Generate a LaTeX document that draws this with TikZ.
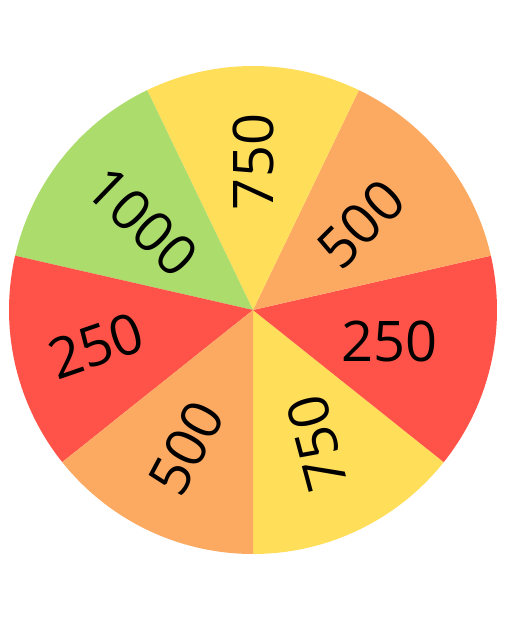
\documentclass[tikz,border=0pt]{standalone}
\usepackage{fontspec}
\setmainfont{Open Sans}
\usepackage{tikz}
\usetikzlibrary{calc}
\usepackage{xcolor}
\definecolor{cYellow}{RGB}{255,222,90}
\definecolor{cOrange}{RGB}{252,169,98}
\definecolor{cRed}{RGB}{255,83,73}
\definecolor{cGreen}{RGB}{172,220,108}
\tikzset{
  slice/.style={draw=none},
  valnode/.style={inner sep=0pt,anchor=center,text=black,
                  font=\fontsize{56}{60}\selectfont}
}

\begin{document}
\begin{tikzpicture}[x=1pt,y=1pt]
  \useasboundingbox (0,0) rectangle (508,619);
  \coordinate (hub) at (253,309);

  % slices, counter-clockwise from the bottom
  \foreach \col [count=\i] in {cYellow,cRed,cOrange,cYellow,cGreen,cRed,cOrange}{
    \pgfmathsetmacro{\a}{-90+(\i-1)*360/7}
    \pgfmathsetmacro{\b}{-90+\i*360/7}
    \fill[slice,fill=\col] (hub) -- ($(hub)+(\a:244)$) arc (\a:\b:244) -- cycle;
  }

  % values
  \foreach \val/\r/\rot [count=\i] in {750/148/105,250/140/0,500/138/45,
      750/148/90,1000/142/-44,250/161/19,500/153/62}{
    \pgfmathsetmacro{\m}{-90+(\i-0.5)*360/7}
    \node[valnode,rotate=\rot] (v\i) at ($(hub)+(\m:\r)$) {\val};
  }
\end{tikzpicture}
\end{document}
